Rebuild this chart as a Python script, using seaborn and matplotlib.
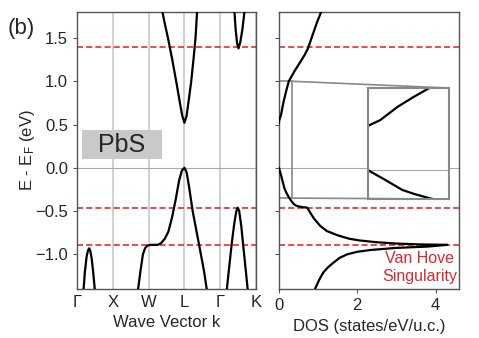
import numpy as np
import pandas as pd
import matplotlib
matplotlib.use("Agg")
import matplotlib.pyplot as plt
import seaborn as sns
from matplotlib.patches import Rectangle
from mpl_toolkits.axes_grid1.inset_locator import mark_inset

# ---------------- data ----------------
kpoint_labels = ["Γ", "X", "W", "L", "Γ", "K"]
kpoint_pos = [0, 1, 2, 3, 4, 5]

band_cb_k = [2.36, 2.46, 2.54, 2.66, 2.77, 2.87, 2.94, 3.0, 3.06, 3.12, 3.19, 3.26, 3.31, 3.36]
band_cb_E = [1.85, 1.65, 1.5, 1.25, 1.0, 0.76, 0.6, 0.52, 0.6, 0.78, 1.0, 1.28, 1.5, 1.85]

band_up_k = [4.39, 4.43, 4.47, 4.51, 4.56, 4.62, 4.69]
band_up_E = [1.85, 1.6, 1.44, 1.38, 1.45, 1.6, 1.85]

band_vb_k = [1.70, 1.77, 1.84, 1.90, 1.96, 2.05, 2.15, 2.25, 2.35, 2.45, 2.55, 2.65,
             2.75, 2.85, 2.93, 3.0, 3.06, 3.13, 3.23, 3.35, 3.46, 3.55, 3.63]
band_vb_E = [-1.42, -1.2, -1.0, -0.93, -0.9, -0.89, -0.89, -0.89, -0.87, -0.82, -0.74, -0.58,
             -0.38, -0.15, -0.03, 0.0, -0.05, -0.22, -0.5, -0.76, -1.0, -1.2, -1.42]

band_k1_k = [4.18, 4.25, 4.32, 4.39, 4.45, 4.49, 4.53, 4.59, 4.65, 4.71, 4.77]
band_k1_E = [-1.42, -1.15, -0.88, -0.65, -0.5, -0.46, -0.5, -0.68, -0.93, -1.17, -1.42]

band_g_k = [0.18, 0.22, 0.27, 0.31, 0.34, 0.37, 0.41, 0.45, 0.50]
band_g_E = [-1.42, -1.2, -1.02, -0.95, -0.93, -0.96, -1.05, -1.2, -1.42]

dos_vb_E = [-1.42, -1.3, -1.21, -1.15, -1.1, -1.04, -1.0, -0.97, -0.95, -0.925, -0.91, -0.89,
            -0.885, -0.875, -0.86, -0.84, -0.82, -0.78, -0.73, -0.67, -0.59, -0.52,
            -0.46, -0.455, -0.44, -0.42, -0.38, -0.34, -0.29, -0.24, -0.17, -0.1, -0.05, 0.0]
dos_vb = [0.90, 1.02, 1.13, 1.25, 1.38, 1.55, 1.74, 2.0, 2.33, 3.0, 3.8, 4.3,
          3.6, 3.0, 2.5, 2.07, 1.8, 1.5, 1.22, 1.05, 0.9, 0.8,
          0.72, 0.6, 0.45, 0.38, 0.31, 0.25, 0.19, 0.14, 0.1, 0.06, 0.03, 0.0]

dos_cb_E = [0.52, 0.54, 0.61, 0.77, 0.89, 1.0, 1.12, 1.22, 1.3, 1.38, 1.55, 1.68, 1.85]
dos_cb = [0.0, 0.0, 0.05, 0.12, 0.185, 0.25, 0.4, 0.54, 0.65, 0.74, 0.87, 0.97, 1.12]

ref_levels = [1.39, -0.46, -0.89]
dos_ticks = [0, 2, 4]

# ---------------- style ----------------
sns.set_style("white")
plt.rcParams["font.family"] = ["Liberation Sans", "DejaVu Sans"]
plt.rcParams["mathtext.fontset"] = "custom"
plt.rcParams["mathtext.rm"] = "Liberation Sans"
plt.rcParams["mathtext.it"] = "Liberation Sans"
plt.rcParams["axes.unicode_minus"] = True

spine_c = "#555555"
red = "#e8161b"
text_red = "#d42a30"

fig = plt.figure(figsize=(4.79, 3.38), dpi=100)
ax1 = fig.add_axes([0.1608, 0.145, 0.3737, 0.8195])
ax2 = fig.add_axes([0.5825, 0.145, 0.3758, 0.8195])

bands = pd.concat([
    pd.DataFrame({"k": band_cb_k, "E": band_cb_E, "band": "cb"}),
    pd.DataFrame({"k": band_up_k, "E": band_up_E, "band": "up"}),
    pd.DataFrame({"k": band_vb_k, "E": band_vb_E, "band": "vb"}),
    pd.DataFrame({"k": band_k1_k, "E": band_k1_E, "band": "k1"}),
    pd.DataFrame({"k": band_g_k, "E": band_g_E, "band": "g"}),
])

# left panel
for p in kpoint_pos:
    ax1.axvline(p, color="#c8c8c8", lw=1.2, zorder=0)
ax1.axhline(0, color="#aaaaaa", lw=0.8, zorder=0)
for lv in ref_levels:
    ax1.axhline(lv, color=red, lw=1.1, ls=(0, (4, 2)), zorder=1)
sns.lineplot(data=bands, x="k", y="E", units="band", estimator=None, sort=False,
             color="black", lw=1.6, ax=ax1, zorder=3)
ax1.add_patch(Rectangle((0.14, 0.10), 2.22, 0.34, fc="#c9c9c9", ec="none", zorder=2))
ax1.text(1.25, 0.265, "PbS", fontsize=18, ha="center", va="center", zorder=4)
ax1.set_xlim(0, 5)
ax1.set_ylim(-1.4, 1.8)
ax1.set_xticks(kpoint_pos)
ax1.set_xticklabels(kpoint_labels)
ax1.set_yticks([-1.0, -0.5, 0.0, 0.5, 1.0, 1.5])
ax1.set_yticklabels(["−1.0", "−0.5", "0.0", "0.5", "1.0", "1.5"])
ax1.set_xlabel("Wave Vector k", fontsize=12)
ax1.set_ylabel("E - E$_\\mathrm{F}$ (eV)", fontsize=12, labelpad=-1)
ax1.tick_params(axis="x", length=0, labelsize=12, pad=4)
ax1.tick_params(axis="y", length=3, width=0.8, color=spine_c, labelsize=12, left=True)
for s in ax1.spines.values():
    s.set_color(spine_c)
    s.set_linewidth(1.0)

# right panel
ax2.axhline(0, color="#aaaaaa", lw=0.8, zorder=0)
for lv in ref_levels:
    ax2.axhline(lv, color=red, lw=1.1, ls=(0, (4, 2)), zorder=1)
sns.lineplot(x=dos_vb, y=dos_vb_E, sort=False, estimator=None, color="black", lw=1.6, ax=ax2, zorder=3)
sns.lineplot(x=dos_cb, y=dos_cb_E, sort=False, estimator=None, color="black", lw=1.6, ax=ax2, zorder=3)
ax2.set_xlim(0, 4.6)
ax2.set_ylim(-1.4, 1.8)
ax2.set_xticks(dos_ticks)
ax2.set_yticks([-1.0, -0.5, 0.0, 0.5, 1.0, 1.5])
ax2.set_yticklabels([])
ax2.set_xlabel("DOS (states/eV/u.c.)", fontsize=12)
ax2.tick_params(axis="x", length=3, width=0.8, color=spine_c, labelsize=12, bottom=True)
ax2.tick_params(axis="y", length=3, width=0.8, color=spine_c, left=True)
for s in ax2.spines.values():
    s.set_color(spine_c)
    s.set_linewidth(1.0)
ax2.text(3.59, -1.15, "Van Hove\nSingularity", color=text_red, fontsize=11.5,
         ha="center", va="center", linespacing=1.25)

# inset
axin = fig.add_axes([0.7683, 0.4112, 0.169, 0.3284])
axin.axhline(0, color="#aaaaaa", lw=0.8, zorder=0)
sns.lineplot(x=dos_vb, y=dos_vb_E, sort=False, estimator=None, color="black", lw=1.6, ax=axin)
sns.lineplot(x=dos_cb[1:], y=dos_cb_E[1:], sort=False, estimator=None, color="black", lw=1.6, ax=axin)
axin.set_xlim(0, 0.33)
axin.set_ylim(-0.35, 1.0)
axin.set_xticks([])
axin.set_yticks([])
axin.set_xlabel("")
axin.set_ylabel("")
for s in axin.spines.values():
    s.set_color("#888888")
    s.set_linewidth(1.5)
mark_inset(ax2, axin, loc1=1, loc2=4, fc="none", ec="#888888", lw=1.2)

fig.text(0.015, 0.9, "(b)", fontsize=16)

fig.savefig("out.png", dpi=100)
